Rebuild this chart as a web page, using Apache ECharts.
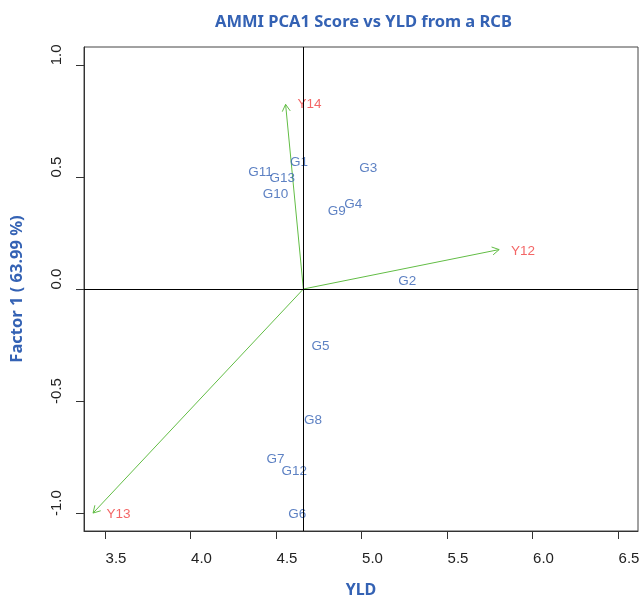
<!DOCTYPE html>
<html>
<head>
<meta charset="utf-8">
<script src="https://cdn.jsdelivr.net/npm/echarts@6/dist/echarts.min.js"></script>
<style>
  html, body { margin: 0; padding: 0; background: #fff; }
  #chart { width: 641px; height: 595px; }
</style>
</head>
<body>
<div id="chart"></div>
<script>
// genotype scores (YLD, PCA1)
const genotypes = ['G1', 'G2', 'G3', 'G4', 'G5', 'G6', 'G7', 'G8', 'G9', 'G10', 'G11', 'G12', 'G13']
const genoYld = [4.635, 5.268, 5.040, 4.952, 4.760, 4.624, 4.497, 4.716, 4.855, 4.497, 4.409, 4.606, 4.536]
const genoPca = [0.565, 0.034, 0.537, 0.376, -0.257, -1.004, -0.762, -0.588, 0.348, 0.421, 0.519, -0.814, 0.492]

// environment vectors: arrow tips and label positions
const envs = ['Y12', 'Y13', 'Y14']
const envTipYld = [5.805, 3.430, 4.556]
const envTipPca = [0.176, -1.000, 0.824]
const envLabelYld = [5.944, 3.579, 4.696]
const envLabelPca = [0.170, -1.004, 0.823]

const meanYld = 4.66
const xTicks = [3.5, 4.0, 4.5, 5.0, 5.5, 6.0, 6.5]
const yTicks = [-1.0, -0.5, 0.0, 0.5, 1.0]

const BLUE = '#3462b4'
const RED = '#f04040'
const GREEN = '#62bd45'

const chart = echarts.init(document.getElementById('chart'))

const arrowData = envs.map((name, i) => [meanYld, 0, envTipYld[i], envTipPca[i]])

const renderArrow = (params, api) => {
  const o = api.coord([api.value(0), api.value(1)])
  const t = api.coord([api.value(2), api.value(3)])
  const ang = Math.atan2(t[1] - o[1], t[0] - o[0])
  const len = 8
  const spread = Math.PI / 6
  const style = { stroke: GREEN, lineWidth: 1 }
  const head = (a) => ({
    type: 'line',
    shape: { x1: t[0], y1: t[1], x2: t[0] - len * Math.cos(a), y2: t[1] - len * Math.sin(a) },
    style
  })
  return {
    type: 'group',
    children: [
      { type: 'line', shape: { x1: o[0], y1: o[1], x2: t[0], y2: t[1] }, style },
      head(ang + spread),
      head(ang - spread)
    ]
  }
}

chart.setOption({
  animation: false,
  title: {
    text: 'AMMI PCA1 Score vs YLD from a RCB',
    left: 210,
    top: 9,
    textStyle: {
      fontFamily: 'Noto Sans',
      fontWeight: 'bold',
      fontSize: 16.5,
      color: BLUE
    }
  },
  grid: {
    left: 84,
    right: 3,
    top: 47,
    bottom: 64,
    containLabel: false,
    outerBoundsMode: 'none',
    show: true,
    borderColor: '#444',
    borderWidth: 1
  },
  xAxis: {
    type: 'value',
    min: 3.377,
    max: 6.617,
    name: 'YLD',
    nameLocation: 'middle',
    nameGap: 51,
    nameTextStyle: { fontFamily: 'Noto Sans', fontWeight: 'bold', fontSize: 16, color: BLUE },
    splitLine: { show: false },
    axisLine: { show: true, onZero: false, lineStyle: { color: '#333' } },
    axisTick: { customValues: xTicks, length: 8, lineStyle: { color: '#333' } },
    axisLabel: {
      customValues: xTicks,
      margin: 20,
      fontFamily: 'Liberation Sans',
      fontSize: 15,
      color: '#222',
      padding: [0, 0, 0, 22],
      formatter: (v) => v.toFixed(1)
    }
  },
  yAxis: {
    type: 'value',
    min: -1.08,
    max: 1.08,
    name: 'Factor 1 ( 63.99 %)',
    nameLocation: 'middle',
    nameGap: 58,
    nameTextStyle: { fontFamily: 'Noto Sans', fontWeight: 'bold', fontSize: 16.5, color: BLUE },
    splitLine: { show: false },
    axisLine: { show: true, onZero: false, lineStyle: { color: '#333' } },
    axisTick: { customValues: yTicks, length: 8, lineStyle: { color: '#333' } },
    axisLabel: {
      customValues: yTicks,
      rotate: 90,
      margin: 20,
      fontFamily: 'Liberation Sans',
      fontSize: 15,
      color: '#222',
      padding: [0, 0, 0, 20],
      formatter: (v) => v.toFixed(1)
    }
  },
  series: [
    {
      type: 'custom',
      renderItem: renderArrow,
      data: arrowData,
      silent: true,
      z: 3
    },
    {
      type: 'scatter',
      symbolSize: 0.1,
      itemStyle: { color: 'transparent' },
      data: genotypes.map((name, i) => ({ name, value: [genoYld[i], genoPca[i]] })),
      label: {
        show: true,
        position: 'inside',
        formatter: '{b}',
        fontFamily: 'Liberation Sans',
        fontSize: 13.5,
        color: BLUE
      },
      markLine: {
        silent: true,
        symbol: 'none',
        label: { show: false },
        lineStyle: { color: '#000', width: 1, type: 'solid' },
        data: [{ yAxis: 0 }, { xAxis: meanYld }]
      },
      z: 4
    },
    {
      type: 'scatter',
      symbolSize: 0.1,
      itemStyle: { color: 'transparent' },
      data: envs.map((name, i) => ({ name, value: [envLabelYld[i], envLabelPca[i]] })),
      label: {
        show: true,
        position: 'inside',
        formatter: '{b}',
        fontFamily: 'Liberation Sans',
        fontSize: 13.5,
        color: RED
      },
      z: 4
    }
  ]
})
</script>
</body>
</html>
